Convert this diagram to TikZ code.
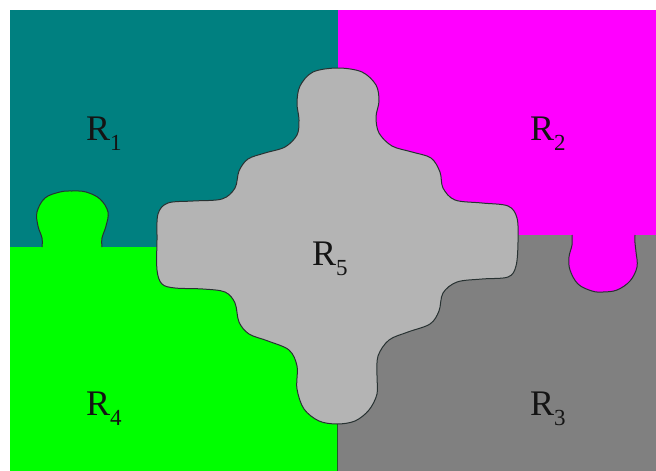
\documentclass[tikz,border=0pt]{standalone}
\usepackage{fontspec}
\setmainfont{Liberation Serif}
\definecolor{rteal}{RGB}{0,128,128}
\definecolor{rmag}{RGB}{255,0,255}
\definecolor{rgreen}{RGB}{0,255,0}
\definecolor{rgray}{RGB}{128,128,128}
\definecolor{rlight}{RGB}{180,180,180}
\definecolor{outl}{RGB}{40,50,50}
\newcommand\lsub[1]{\raisebox{-0.3em}{\fontsize{23}{23}\selectfont #1}}
\begin{document}
\begin{tikzpicture}[x=1pt,y=-1pt,
  edge/.style={draw=outl, line width=1pt},
  lbl/.style={font=\fontsize{36}{36}\selectfont, text=black!92, inner sep=0pt, anchor=base west}]
\useasboundingbox (0,0) rectangle (656,471);
\fill[white] (0,0) rectangle (656,471);
% four rectangles
\fill[rteal] (10,10) rectangle (338,247);
\fill[rgreen] (10,247) rectangle (338,471);
\fill[rmag] (338,10) rectangle (656,235);
\fill[rgray] (338,235) rectangle (656,471);
\draw[draw=outl!80!rgreen, line width=1pt] (337,400) -- (337,471);
% green knob into R1
\path[fill=rgreen, edge] plot[smooth, tension=0.6] coordinates {
 (42,247) (42,238) (38,226) (37,212) (45,198) (60,192) (72,191) (86,192) (100,199) (108,212) (106,226) (102,238) (102,247)};
% magenta knob into R3
\path[fill=rmag, edge] plot[smooth, tension=0.6] coordinates {
 (572,235) (572,245) (569,257) (570,270) (578,284) (592,291) (603,292) (617,290) (630,281) (637,267) (636,252) (635,243) (635,235)};
% central piece R5
\path[fill=rlight, edge] plot[smooth cycle, tension=0.55] coordinates {
 (338,68) (362,72) (376,85) (379,101) (376,117) (379,133) (392,146) (412,152) (431,158) (440,172) (443,188) (455,200) (482,203) (508,206) (517,218) (518,242) (516,266) (508,277) (482,279) (457,282) (443,293) (439,311) (430,324) (408,332) (389,340) (378,356) (377,376) (377,394) (369,410) (355,421) (337,424) (319,421) (304,409) (297,389) (297,366) (289,350) (268,341) (249,334) (239,322) (235,303) (225,292) (203,289) (175,288) (162,284) (157,270) (157,240) (158,214) (168,203) (193,201) (222,199) (235,188) (239,171) (248,159) (265,153) (285,147) (297,135) (299,120) (297,103) (300,86) (313,72)};
% labels
\node[lbl] (r1) at (86,140) {R\lsub{1}};
\node[lbl] (r2) at (530,140) {R\lsub{2}};
\node[lbl] (r5) at (312,265) {R\lsub{5}};
\node[lbl] (r4) at (86,415) {R\lsub{4}};
\node[lbl] (r3) at (530,415) {R\lsub{3}};
\end{tikzpicture}
\end{document}
